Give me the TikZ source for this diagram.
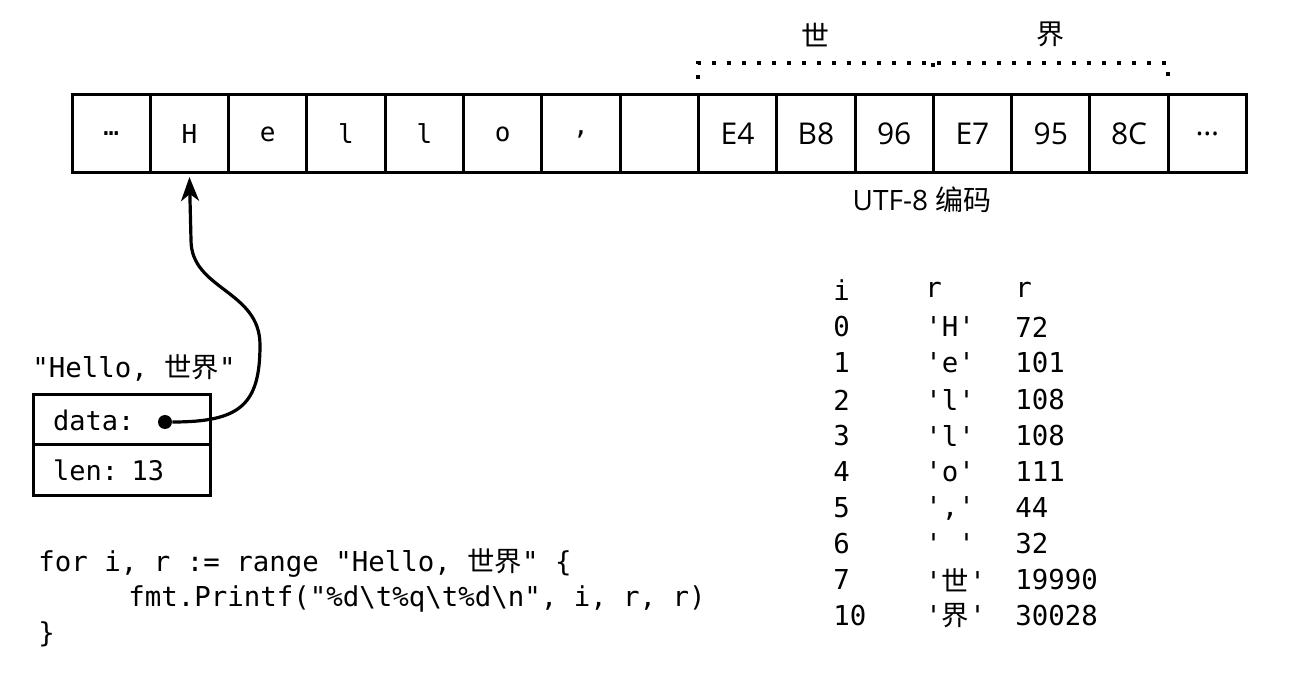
\documentclass[tikz,border=0pt]{standalone}
\usepackage{fontspec}
\newfontfamily\codefont{DejaVu Sans Mono}[Ligatures=TeXOff]
\newfontfamily\hexfont{Open Sans}
\newfontfamily\cjk{Noto Sans CJK SC}
\usetikzlibrary{positioning,arrows.meta}

\begin{document}
\begin{tikzpicture}[x=0.5pt, y=-0.5pt,
    cell/.style={draw, line width=1.5pt, minimum width=39.15pt, minimum height=39pt,
        inner sep=0pt, outer sep=0pt, font=\codefont\fontsize{13}{15}\selectfont},
    hexcell/.style={cell, font=\hexfont\fontsize{15}{18}\selectfont},
    field/.style={draw, line width=1.5pt, text width=68.5pt, inner xsep=10pt, inner ysep=0pt,
        minimum height=25pt, outer sep=0pt, align=left, font=\codefont\fontsize{13.5}{15}\selectfont},
    code/.style={anchor=west, inner sep=0pt, font=\codefont\fontsize{13.7}{16}\selectfont},
    note/.style={inner sep=0pt, font=\hexfont\fontsize{14}{17}\selectfont},
    glyph/.style={inner sep=0pt, font=\cjk\fontsize{14}{17}\selectfont},
    dots/.style={line width=2pt, dash pattern=on 2pt off 5.5pt},
    ptr/.style={line width=1.6pt, -{Stealth[length=12pt, width=9pt, inset=3.5pt]}},
    ]
\useasboundingbox (0,0) rectangle (1290,673);

% the bytes in memory
\node[cell] (c1) at (111.15,134) {…};
\node[cell, right=0pt of c1] (c2) {H};
\node[cell, right=0pt of c2] (c3) {e};
\node[cell, right=0pt of c3] (c4) {l};
\node[cell, right=0pt of c4] (c5) {l};
\node[cell, right=0pt of c5] (c6) {o};
\node[cell, right=0pt of c6] (c7) {,};
\node[cell, right=0pt of c7] (c8) {};
\node[hexcell, right=0pt of c8] (c9) {E4};
\node[hexcell, right=0pt of c9] (c10) {B8};
\node[hexcell, right=0pt of c10] (c11) {96};
\node[hexcell, right=0pt of c11] (c12) {E7};
\node[hexcell, right=0pt of c12] (c13) {95};
\node[hexcell, right=0pt of c13] (c14) {8C};
\node[hexcell, right=0pt of c14] (c15) {…};

% the two runes
\draw[dots] ([yshift=8pt]c9.north west) |- ([yshift=16pt]c14.north east) -- ([yshift=8pt]c14.north east);
\draw[dots] ([yshift=16pt]c11.north east) -- ([yshift=10pt]c11.north east);
\node[glyph, above=24pt of c10] (shi) {世};
\node[glyph, above=24pt of c13] (jie) {界};
\node[note] (enc) at (922,200) {UTF-8 {\cjk 编码}};

% the string header
\node[code] (str) at (32,368) {"Hello, {\cjk 世界}"};
\node[field] (data) at (121.5,420) {data:};
\node[field, below=0pt of data] (len) {len: 13};
\node[circle, fill, inner sep=0pt, minimum size=7pt] (p) at (165,422) {};
\draw[ptr] (p) .. controls (240,422) and (260,405) .. (260,345)
    .. controls (260,290) and (191,290) .. (191,240) -- ([yshift=-2pt]c2.south);

% the loop
\node[code] (l1) at (38,563) {for i, r := range "Hello, {\cjk 世界}" \{};
\node[code] (l2) at (128,599) {fmt.Printf("\%d\textbackslash t\%q\textbackslash t\%d\textbackslash n", i, r, r)};
\node[code] (l3) at (38,634) {\}};

% its output
\node[code] (i0) at (833,290) {i};   \node[code] (q0) at (925,290) {r};         \node[code] (v0) at (1015,290) {r};
\node[code] (i1) at (833,327) {0};   \node[code] (q1) at (925,327) {'H'};       \node[code] (v1) at (1015,327) {72};
\node[code] (i2) at (833,363) {1};   \node[code] (q2) at (925,363) {'e'};       \node[code] (v2) at (1015,363) {101};
\node[code] (i3) at (833,400) {2};   \node[code] (q3) at (925,400) {'l'};       \node[code] (v3) at (1015,400) {108};
\node[code] (i4) at (833,436) {3};   \node[code] (q4) at (925,436) {'l'};       \node[code] (v4) at (1015,436) {108};
\node[code] (i5) at (833,472) {4};   \node[code] (q5) at (925,472) {'o'};       \node[code] (v5) at (1015,472) {111};
\node[code] (i6) at (833,508) {5};   \node[code] (q6) at (925,508) {','};       \node[code] (v6) at (1015,508) {44};
\node[code] (i7) at (833,544) {6};   \node[code] (q7) at (925,544) {'\ '};      \node[code] (v7) at (1015,544) {32};
\node[code] (i8) at (833,580) {7};   \node[code] (q8) at (925,580) {'{\cjk 世}'}; \node[code] (v8) at (1015,580) {19990};
\node[code] (i9) at (833,616) {10};  \node[code] (q9) at (925,616) {'{\cjk 界}'}; \node[code] (v9) at (1015,616) {30028};
\end{tikzpicture}
\end{document}
